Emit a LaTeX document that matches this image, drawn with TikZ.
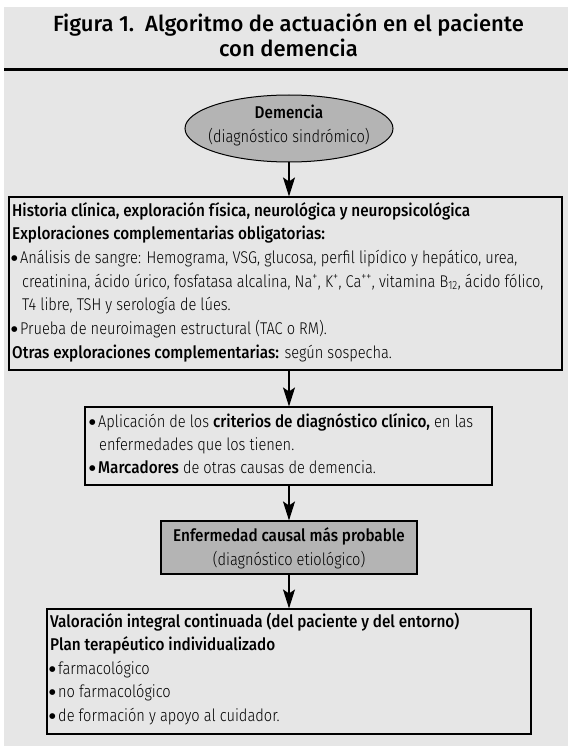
\documentclass[tikz,border=0pt]{standalone}
\usepackage{fontspec}
\setmainfont{Fira Sans}[UprightFont=* Light, BoldFont=* Medium, FakeStretch=0.86, BoldFeatures={FakeStretch=0.9}]
\newfontfamily\titlefam{Fira Sans}[UprightFont=* Medium]
\newfontfamily\dejavu{DejaVu Sans}
\usetikzlibrary{shapes.geometric,arrows.meta}
\definecolor{bggray}{HTML}{E6E6E6}
\definecolor{midgray}{HTML}{B4B4B4}
\newcommand{\bodyf}{\fontsize{17}{20}\selectfont}
\newcommand{\titlef}{\titlefam\fontsize{22}{26}\selectfont}
\newcommand{\bul}{\makebox[9pt][l]{\raisebox{2.6pt}{\dejavu\fontsize{7.5}{8}\selectfont ●}}}
\tikzset{
  boxnode/.style={draw=black, line width=1.1pt, inner sep=0pt, rectangle},
  txt/.style={anchor=base west, inner sep=0pt, font=\bodyf},
  ctxt/.style={anchor=base, inner sep=0pt, font=\bodyf},
  ttl/.style={anchor=base, inner sep=0pt, font=\titlef},
  arr/.style={line width=1.1pt, -{Stealth[length=19pt,width=12pt,inset=4pt]}}
}
\begin{document}
\begin{tikzpicture}[x=1pt,y=-1pt]
\useasboundingbox (0,0) rectangle (568,746);
\fill[bggray] (4,7) rectangle (568,746);
% title
\node[ttl] (t1) at (288.5,32) {Figura 1.\ \ Algoritmo de actuación en el paciente};
\node[ttl] (t2) at (288.5,57) {con demencia};
\draw[line width=3pt] (4,70) -- (568,70);
% ellipse
\node[ellipse, draw=black, line width=1pt, fill=midgray, minimum width=208pt, minimum height=67pt, inner sep=0pt] (ell) at (289,128.5) {};
\node[ctxt, font=\bodyf\bfseries] (e1) at (289,119) {Demencia};
\node[ctxt] (e2) at (289,143) {(diagnóstico sindrómico)};
% box 1
\node[boxnode, minimum width=553pt, minimum height=173pt] (b1) at (285.5,283.5) {};
\node[txt] (l11) at (12,216) {\bfseries Historia clínica, exploración física, neurológica y neuropsicológica};
\node[txt] (l12) at (12,239.7) {\bfseries Exploraciones complementarias obligatorias:};
\node[txt] (l13) at (11,263.3) {\bul Análisis de sangre: Hemograma, VSG, glucosa, perfil lipídico y hepático, urea,};
\node[txt] (l14) at (22,287) {creatinina, ácido úrico, fosfatasa alcalina, Na\textsuperscript{+}, K\textsuperscript{+}, Ca\textsuperscript{++}, vitamina B\textsubscript{12}, ácido fólico,};
\node[txt] (l15) at (22,310.7) {T4 libre, TSH y serología de lúes.};
\node[txt] (l16) at (11,334.3) {\bul Prueba de neuroimagen estructural (TAC o RM).};
\node[txt] (l17) at (12,358) {\textbf{Otras exploraciones complementarias:} según sospecha.};
% box 2
\node[boxnode, minimum width=407pt, minimum height=78pt] (b2) at (288.5,446) {};
\node[txt] (l21) at (89,427) {\bul Aplicación de los \textbf{criterios de diagnóstico clínico,} en las};
\node[txt] (l22) at (99,450) {enfermedades que los tienen.};
\node[txt] (l23) at (89,473) {\bul \textbf{Marcadores} de otras causas de demencia.};
% box 3
\node[boxnode, fill=midgray, minimum width=256pt, minimum height=53pt] (b3) at (289,547.5) {};
\node[ctxt, font=\bodyf\bfseries] (l31) at (289,541) {Enfermedad causal más probable};
\node[ctxt] (l32) at (289,565) {(diagnóstico etiológico)};
% box 4
\node[boxnode, minimum width=484pt, minimum height=125pt] (b4) at (289,671.5) {};
\node[txt] (l41) at (50,627) {\bfseries Valoración integral continuada (del paciente y del entorno)};
\node[txt] (l42) at (50,650.5) {\bfseries Plan terapéutico individualizado};
\node[txt] (l43) at (49,674) {\bul farmacológico};
\node[txt] (l44) at (49,697.5) {\bul no farmacológico};
\node[txt] (l45) at (49,721) {\bul de formación y apoyo al cuidador.};
% arrows
\draw[arr] (ell.south) -- (ell.south |- b1.north);
\draw[arr] (ell.south |- b1.south) -- (ell.south |- b2.north);
\draw[arr] (b3.north |- b2.south) -- (b3.north);
\draw[arr] (b3.south) -- (b4.north);
\end{tikzpicture}
\end{document}
